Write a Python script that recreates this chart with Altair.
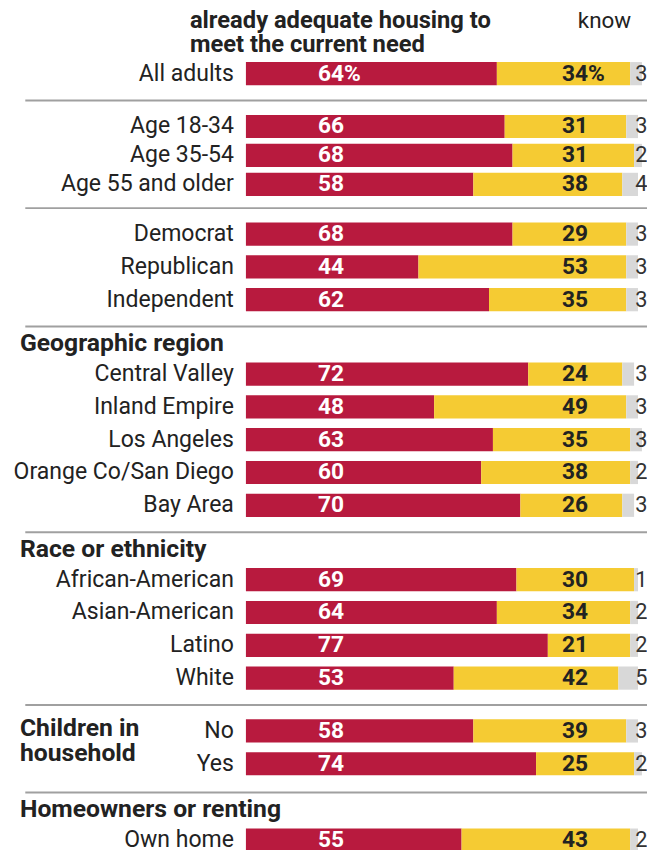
import altair as alt
import pandas as pd

# ---------------- data ----------------
labels = ["All adults",
          "Age 18-34", "Age 35-54", "Age 55 and older",
          "Democrat", "Republican", "Independent",
          "Central Valley", "Inland Empire", "Los Angeles", "Orange Co/San Diego", "Bay Area",
          "African-American", "Asian-American", "Latino", "White",
          "No", "Yes",
          "Own home"]
shortage = [64, 66, 68, 58, 68, 44, 62, 72, 48, 63, 60, 70, 69, 64, 77, 53, 58, 74, 55]
adequate = [34, 31, 31, 38, 29, 53, 35, 24, 49, 35, 38, 26, 30, 34, 21, 42, 39, 25, 43]
dont_know = [3, 3, 2, 4, 3, 3, 3, 3, 3, 3, 2, 3, 1, 2, 2, 5, 3, 2, 2]

group_titles = ["", "", "", "Geographic region", "Race or ethnicity",
                "Children in|household", "Homeowners or renting"]
group_sizes = [1, 3, 3, 5, 4, 2, 1]
header_lines = ["already adequate housing to", "meet the current need"]
dk_header = "know"

# ---------------- layout (computed) ----------------
W, H = 647, 853
PX = 3.97            # pixels per percentage point
X0 = 240.9           # plot x where bars start
STEP, AGE_STEP = 33.6, 29.65
FIRST = 56.8

row_y, sep_y, head_rows, side_rows = [], [], [], []
cur = FIRST
prev_last, prev_gap = None, None
for gi, (title, size) in enumerate(zip(group_titles, group_sizes)):
    step = AGE_STEP if gi == 1 else STEP
    if gi > 0:
        sep = prev_last + prev_gap
        sep_y.append(sep)
        if title and "|" not in title:
            head_rows.append((title, sep + 17.2))
            cur = sep + 48.7
        else:
            cur = sep + 26.6
    if "|" in title:
        a, b = title.split("|")
        side_rows.append((a, cur - 3))
        side_rows.append((b, cur + 22.5))
    for k in range(size):
        row_y.append(cur + k * step)
    prev_last = cur + (size - 1) * step
    prev_gap = 0.82 * step + (2 if "|" in title else 0)

rows = []
for i, lab in enumerate(labels):
    pct = "%" if i == 0 else ""
    s, a, d = shortage[i], adequate[i], dont_know[i]
    rows.append(dict(label=lab, y=row_y[i], cat="s", x=0, x2=s, val=f"{s}{pct}"))
    rows.append(dict(label=lab, y=row_y[i], cat="a", x=s, x2=s + a, val=f"{a}{pct}"))
    rows.append(dict(label=lab, y=row_y[i], cat="d", x=s + a, x2=s + a + d, val=f"{d}{pct}"))
df = pd.DataFrame(rows)

xdom = [-X0 / PX, (W - X0) / PX]
xs = alt.Scale(domain=xdom, nice=False, zero=False)
ys = alt.Scale(domain=[0, H], reverse=True, nice=False, zero=False)
FONT = "Roboto"
DARK = "#222222"

def dx(plot_x):
    return (plot_x - X0) / PX

X = lambda f: alt.X(f, scale=xs, axis=None)
Y = lambda f: alt.Y(f, scale=ys, axis=None)

bars = alt.Chart(df).mark_bar(height=23.5).encode(
    x=X("x:Q"), x2="x2:Q", y=Y("y:Q"),
    color=alt.Color("cat:N", scale=alt.Scale(domain=["s", "a", "d"],
                                             range=["#b81a3e", "#f5cb33", "#d8d8d8"]),
                    legend=None),
)

lab_df = pd.DataFrame(dict(label=labels, y=row_y, lx=dx(228.7)))
row_labels = alt.Chart(lab_df).mark_text(align="right", baseline="middle", font=FONT,
                                         fontSize=23.3, color=DARK).encode(
    x=X("lx:Q"), y=Y("y:Q"), text="label:N")

def value_layer(cat, pos, color, weight, size):
    d = df[df.cat == cat].copy()
    d["lx"] = pos
    return alt.Chart(d).mark_text(align="left", baseline="middle", font=FONT,
                                  fontSize=size, fontWeight=weight, color=color).encode(
        x=X("lx:Q"), y=Y("y:Q"), text="val:N")

vals_s = value_layer("s", 18.4, "white", "bold", 23)
vals_a = value_layer("a", 80.6, DARK, "bold", 23)
vals_d = value_layer("d", 99.3, "#333333", "normal", 22)

sep_df = pd.DataFrame(dict(y=sep_y, xa=dx(17.5), xb=xdom[1]))
seps = alt.Chart(sep_df).mark_rule(color="#a0a0a0", strokeWidth=2).encode(
    x=X("xa:Q"), x2="xb:Q", y=Y("y:Q"))

hd = pd.DataFrame([dict(t=t, y=y, lx=dx(12.1)) for t, y in head_rows + side_rows])
heads = alt.Chart(hd).mark_text(align="left", baseline="middle", font=FONT, fontSize=25,
                                fontWeight="bold", color=DARK).encode(
    x=X("lx:Q"), y=Y("y:Q"), text="t:N")

top_df = pd.DataFrame([dict(t=header_lines[0], y=3), dict(t=header_lines[1], y=28)])
top_df["lx"] = dx(184.2)
tops = alt.Chart(top_df).mark_text(align="left", baseline="middle", font=FONT, fontSize=24,
                                   fontWeight="bold", color=DARK).encode(
    x=X("lx:Q"), y=Y("y:Q"), text="t:N")
know_df = pd.DataFrame([dict(t=dk_header, y=3, lx=dx(577))])
know = alt.Chart(know_df).mark_text(align="left", baseline="middle", font=FONT, fontSize=22.7,
                                    color=DARK).encode(
    x=X("lx:Q"), y=Y("y:Q"), text="t:N")

chart = alt.layer(seps, bars, row_labels, vals_s, vals_a, vals_d, heads, tops, know).properties(
    width=W, height=H, autosize=alt.AutoSizeParams(type="none"), padding=0,
    background="white",
).configure_view(stroke=None)

chart.save("out.html", embed_options={"renderer": "svg", "actions": False})
